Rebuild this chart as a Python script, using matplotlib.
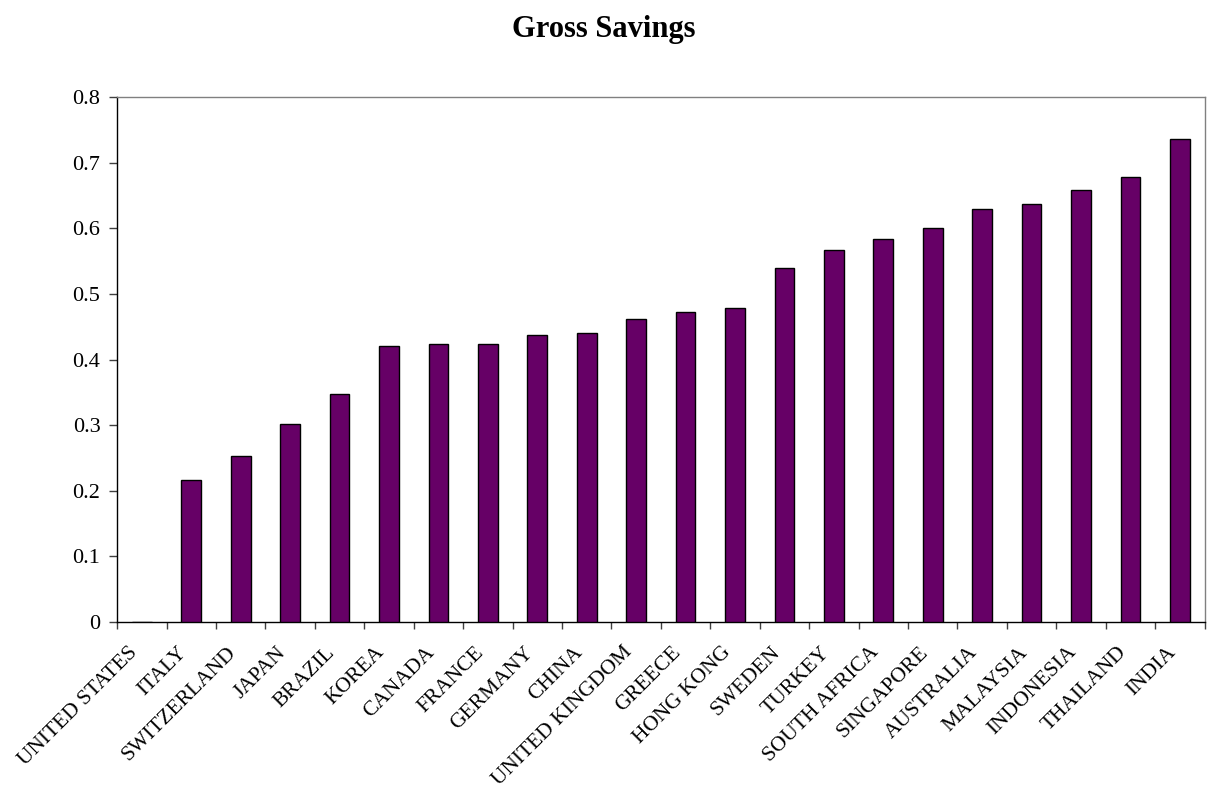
import numpy as np
import matplotlib.pyplot as plt
import matplotlib.transforms as mtransforms
from matplotlib.ticker import FixedLocator

countries = ['UNITED STATES', 'ITALY', 'SWITZERLAND', 'JAPAN', 'BRAZIL', 'KOREA',
             'CANADA', 'FRANCE', 'GERMANY', 'CHINA', 'UNITED KINGDOM', 'GREECE',
             'HONG KONG', 'SWEDEN', 'TURKEY', 'SOUTH AFRICA', 'SINGAPORE',
             'AUSTRALIA', 'MALAYSIA', 'INDONESIA', 'THAILAND', 'INDIA']
savings = [0.0, 0.216, 0.253, 0.301, 0.347, 0.420, 0.424, 0.424, 0.438, 0.441,
           0.462, 0.473, 0.479, 0.540, 0.567, 0.584, 0.600, 0.629, 0.637, 0.658,
           0.679, 0.737]
yticks = [0, 0.1, 0.2, 0.3, 0.4, 0.5, 0.6, 0.7, 0.8]
ytick_labels = ['0', '0.1', '0.2', '0.3', '0.4', '0.5', '0.6', '0.7', '0.8']

plt.rcParams['font.family'] = ['Liberation Serif', 'DejaVu Serif']

fig = plt.figure(figsize=(12.07, 7.92), dpi=100)
ax = fig.add_axes([0.097, 0.215, 0.901, 0.662])

x = np.arange(len(countries))
ax.bar(x, savings, width=0.4, color='#660066', edgecolor='black', linewidth=1.0, zorder=3)

ax.set_xlim(-0.5, len(countries) - 0.5)
ax.set_ylim(0, 0.8)
ax.set_yticks(yticks)
ax.set_yticklabels(ytick_labels, fontsize=16)

# tick marks between categories, labels drawn as rotated text under the centres
ax.set_xticks([])
ax.xaxis.set_minor_locator(FixedLocator(np.arange(-0.5, len(countries), 1)))
ax.tick_params(axis='x', which='minor', length=5, width=1, direction='out', color='#404040')
ax.tick_params(axis='y', length=6, width=1, direction='out', color='#404040', pad=6)

shift = mtransforms.ScaledTranslation(-7 / 100, -28 / 100, fig.dpi_scale_trans)
for xi, name in zip(x, countries):
    ax.text(xi, 0, name, rotation=45, ha='right', va='center', rotation_mode='anchor',
            fontsize=15.5, transform=ax.get_xaxis_transform() + shift)

ax.spines['left'].set_color('black')
ax.spines['bottom'].set_color('black')
ax.spines['top'].set_color('#808080')
ax.spines['right'].set_color('#808080')
for s in ax.spines.values():
    s.set_linewidth(1.0)

fig.text(0.5, 0.963, 'Gross Savings', ha='center', va='center',
         fontsize=22, fontweight='bold')

fig.savefig('out.png', dpi=100)
